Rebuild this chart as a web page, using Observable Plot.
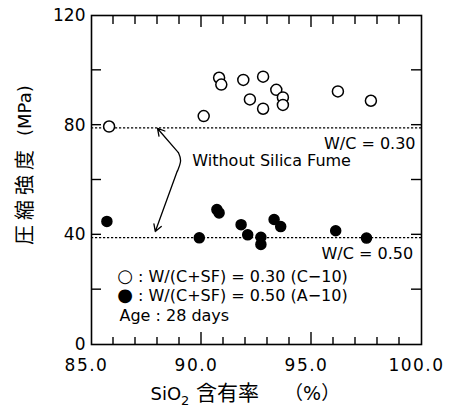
<!DOCTYPE html>
<html><head><meta charset="utf-8">
<script src="https://cdn.jsdelivr.net/npm/d3@7"></script>
<script src="https://cdn.jsdelivr.net/npm/@observablehq/plot@0.6"></script>
<style>body{margin:0;background:#fff}</style>
</head><body><div id="chart"></div>
<script>
// Open circles: W/(C+SF) = 0.30 (C-10)
const sio2Open = [85.8, 90.1, 90.8, 90.9, 91.9, 92.8, 92.2, 92.8, 93.4, 93.7, 93.7, 96.2, 97.7];
const mpaOpen  = [79.5, 83.3, 97.3, 94.8, 96.5, 97.7, 89.4, 86.0, 92.9, 90.1, 87.4, 92.3, 88.9];
// Filled circles: W/(C+SF) = 0.50 (A-10)
const sio2Filled = [85.7, 89.9, 90.7, 90.8, 91.8, 92.1, 92.7, 92.7, 93.3, 93.6, 96.1, 97.5];
const mpaFilled  = [44.9, 38.9, 49.2, 48.0, 43.7, 40.0, 39.1, 36.5, 45.6, 43.0, 41.5, 38.8];
// Reference lines without silica fume
const refLevels = [79, 39];
// Tick values
const xTickLabels = [85, 90, 95, 100];
const xMinorTicks = [86, 87, 88, 89, 91, 92, 93, 94, 96, 97, 98, 99];
const xMajorTicks = [90, 95];
const yTickLabels = [0, 40, 80, 120];
const yTicks = [20, 40, 60, 80, 100];
// Annotations
const wcText = ["W/C = 0.30", "W/C = 0.50"];
const wcX = [99.73, 99.62];
const wcY = [73.3, 33.1];
const noteText = ["Without Silica Fume"];
const noteX = [89.58];
const noteY = [67.1];
const legendText = ["○ : W/(C+SF) = 0.30 (C−10)", "● : W/(C+SF) = 0.50 (A−10)", "Age : 28 days"];
const legendX = [86.17, 86.17, 86.27];
const legendY = [24.8, 17.9, 10.6];
const arrowX1 = [88.95, 88.9], arrowY1 = [70.0, 63.3];
const arrowX2 = [88.0, 87.9], arrowY2 = [78.8, 41.2];
const braceX = [88.95, 89.05, 88.91], braceY = [70.0, 67.0, 63.3];
const yTitleText = ["圧縮強度", "(MPa)"];
const yTitleY = [54.5, 85.3];

const W = 458, H = 410, mL = 91, mR = 37, mT = 15, mB = 66;
const X0 = 85, X1 = 100, Y0 = 0, Y1 = 120;

const openData = sio2Open.map((x, i) => ({x, y: mpaOpen[i]}));
const filledData = sio2Filled.map((x, i) => ({x, y: mpaFilled[i]}));
const wcNotes = wcText.map((t, i) => ({t, x: wcX[i], y: wcY[i]}));
const notes = noteText.map((t, i) => ({t, x: noteX[i], y: noteY[i]}));
const legend = legendText.map((t, i) => ({t, x: legendX[i], y: legendY[i]}));
const arrows = arrowX1.map((x1, i) => ({x1, y1: arrowY1[i], x2: arrowX2[i], y2: arrowY2[i]}));
const brace = braceX.map((x, i) => ({x, y: braceY[i]}));
const yTitles = yTitleText.map((t, i) => ({t, y: yTitleY[i]}));

const font = "'DejaVu Sans', 'Noto Sans CJK JP', sans-serif";

const chart = Plot.plot({
  width: W, height: H,
  marginLeft: mL, marginRight: mR, marginTop: mT, marginBottom: mB,
  style: {fontFamily: font, background: "white", color: "black"},
  x: {domain: [X0, X1]},
  y: {domain: [Y0, Y1]},
  marks: [
    Plot.ruleY(refLevels, {strokeDasharray: "2.2,1.8", strokeWidth: 1.3}),
    Plot.frame({stroke: "black", strokeWidth: 1.6}),
    // tick labels
    Plot.axisX(xTickLabels, {anchor: "bottom", tickSize: 0, tickPadding: 14, tickFormat: d => d.toFixed(1), fontSize: 17, dx: -5, label: null}),
    Plot.axisY(yTickLabels, {anchor: "left", tickSize: 0, tickPadding: 6, fontSize: 17, label: null}),
    // axis titles
    Plot.text(["SiO2 含有率"], {text: d => d, frameAnchor: "bottom", textAnchor: "start", dx: -106, dy: 55, fontSize: 19}),
    Plot.text(yTitles, {y: "y", text: "t", frameAnchor: "left", textAnchor: "middle", rotate: -90, dx: -66, fontSize: 18}),
    // annotations
    Plot.line(brace, {x: "x", y: "y", curve: "natural", strokeWidth: 1.3}),
    Plot.arrow(arrows, {x1: "x1", y1: "y1", x2: "x2", y2: "y2", headLength: 9, strokeWidth: 1.3}),
    Plot.text(wcNotes, {x: "x", y: "y", text: "t", textAnchor: "end", fontSize: 16}),
    Plot.text(notes, {x: "x", y: "y", text: "t", textAnchor: "start", fontSize: 16}),
    Plot.text(legend, {x: "x", y: "y", text: "t", textAnchor: "start", fontSize: 16}),
    // data
    Plot.dot(openData, {x: "x", y: "y", r: 5.5, stroke: "black", strokeWidth: 1.5, fill: "white"}),
    Plot.dot(filledData, {x: "x", y: "y", r: 5, fill: "black", stroke: "black"})
  ]
});

document.getElementById("chart").appendChild(chart);
const svgSel = d3.select(chart);

// inward ticks drawn through the chart's own x / y scales
const xScale = chart.scale("x"), yScale = chart.scale("y");
const pxBottom = yScale.apply(Y0), pxTop = yScale.apply(Y1);
const pxLeft = xScale.apply(X0), pxRight = xScale.apply(X1);
const tickGroup = svgSel.append("g").attr("aria-label", "inward ticks")
  .attr("stroke", "black").attr("stroke-width", 1.4);
const tickSpecs = [
  ...xMinorTicks.map(v => ["x", v, 7, 9]),
  ...xMajorTicks.map(v => ["x", v, 12, 12]),
  ...yTicks.map(v => ["y", v, 10, 10])
];
for (const [axis, v, lenA, lenB] of tickSpecs) {
  if (axis === "x") {
    const px = xScale.apply(v);
    tickGroup.append("line").attr("x1", px).attr("x2", px).attr("y1", pxBottom).attr("y2", pxBottom - lenA);
    tickGroup.append("line").attr("x1", px).attr("x2", px).attr("y1", pxTop).attr("y2", pxTop + lenB);
  } else {
    const py = yScale.apply(v);
    tickGroup.append("line").attr("y1", py).attr("y2", py).attr("x1", pxLeft).attr("x2", pxLeft + lenA);
    tickGroup.append("line").attr("y1", py).attr("y2", py).attr("x1", pxRight).attr("x2", pxRight - lenB);
  }
}

svgSel.selectAll('g[aria-label="x-axis tick label"] text').style("letter-spacing", "1.5px");

svgSel.selectAll("text").each(function() {
  const t = d3.select(this);
  const s = this.textContent;
  if (s === "SiO2 含有率") {
    t.text(null);
    t.append("tspan").attr("font-size", 18).text("SiO");
    t.append("tspan").attr("font-size", 13).attr("dy", 5).text("2");
    t.append("tspan").attr("font-size", 21).attr("dy", -5).text(" 含有率");
    t.append("tspan").attr("font-size", 19).text("　 （%）");
  } else if (s === "圧縮強度") {
    t.attr("font-size", 20).style("letter-spacing", "5px");
  } else if (s.startsWith("○") || s.startsWith("●")) {
    t.text(null);
    t.append("tspan").attr("font-size", 18).text(s[0]);
    t.append("tspan").text(s.slice(1));
  }
});
</script>
</body></html>
